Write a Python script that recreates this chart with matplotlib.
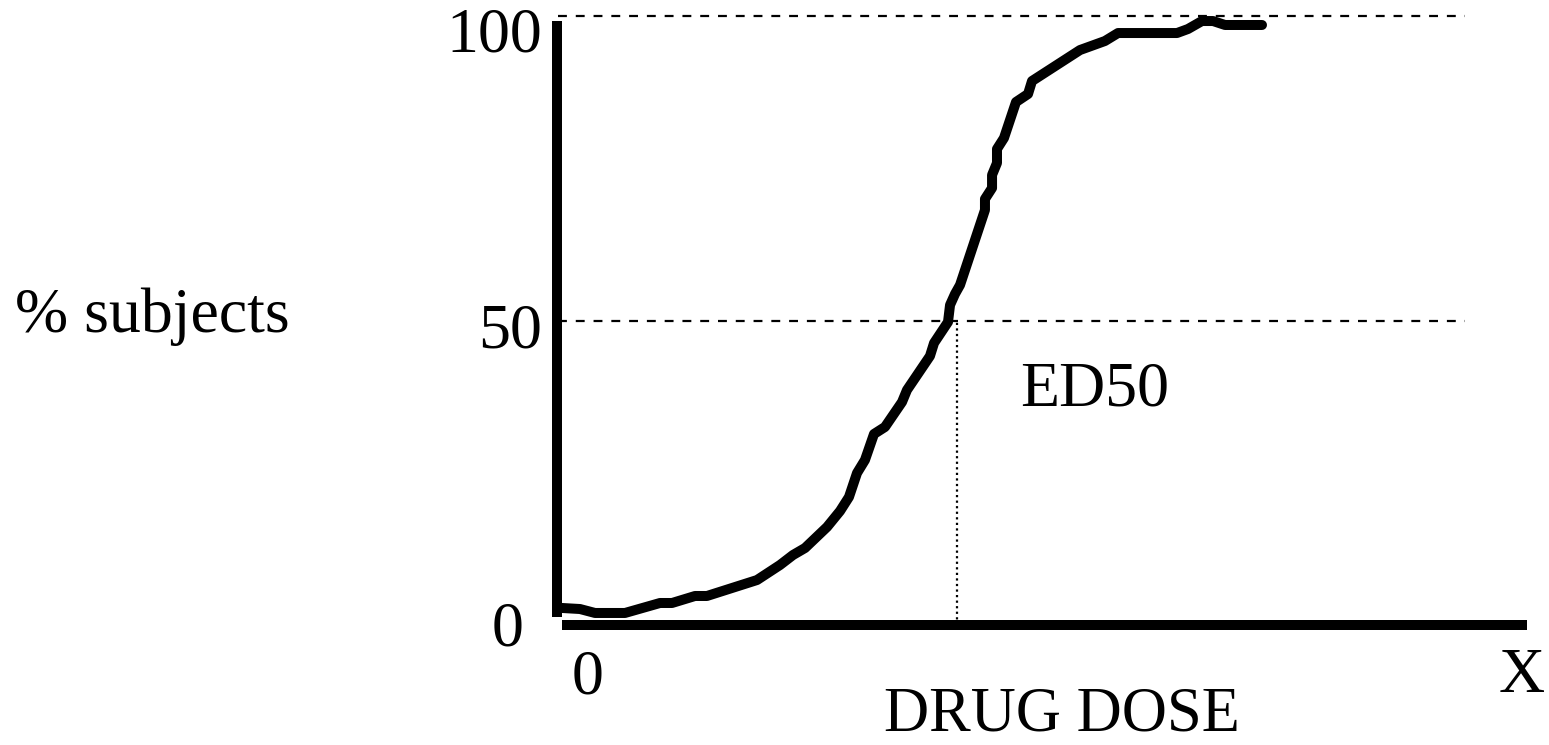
import matplotlib
matplotlib.use("Agg")
import matplotlib.pyplot as plt

# ---- data ----
dose = [0.52, 2.37, 3.92, 7.01, 10.62, 11.86, 14.23, 15.46, 20.62, 22.99,
        24.33, 25.57, 27.84, 29.18, 30.10, 30.93, 31.75, 32.68, 33.81, 35.57,
        36.08, 38.45, 38.87, 40.31, 40.52, 41.03, 41.55, 44.12, 44.12, 44.85,
        44.85, 45.36, 45.36, 46.08, 47.32, 48.56, 48.97, 53.92, 56.49, 57.84,
        63.92, 65.05, 66.49, 67.63, 68.87, 72.68]
response = [2.86, 2.69, 2.04, 2.04, 3.68, 3.68, 4.83, 4.83, 7.45, 9.92,
            11.56, 12.71, 16.16, 18.78, 21.08, 25.02, 27.16, 31.43, 32.58, 36.68,
            38.65, 44.23, 46.37, 49.82, 52.61, 54.42, 55.90, 68.21, 70.02, 71.82,
            73.96, 75.93, 78.23, 80.03, 85.94, 87.26, 89.39, 94.48, 95.96, 97.27,
            97.27, 97.93, 99.24, 99.24, 98.59, 98.59]
ed50_dose = 41.2
ref_levels = [50, 100]
ytick_labels = ["100", "50", "0"]
xtick_labels = ["0", "X"]

W, H = 1549, 745
fig = plt.figure(figsize=(W / 100, H / 100), dpi=100)
plt.rcParams['font.family'] = ['Liberation Serif', 'DejaVu Serif']

# axes: left px 557, right px 1527, bottom px 625.4, top px 16.4
L, R, B, T = 557, 1527, 625.4, 16.4
ax = fig.add_axes([L / W, 1 - B / H, (R - L) / W, (B - T) / H])
ax.set_xlim(0, 100)
ax.set_ylim(0, 100)
ax.set_facecolor("none")
ax.set_xticks([])
ax.set_yticks([])
for s in ["top", "right"]:
    ax.spines[s].set_visible(False)
lw_axis = 7.2
ax.spines["left"].set_linewidth(lw_axis)
ax.spines["left"].set_bounds(1.4, 99.3)
ax.spines["left"].set_capstyle("butt")
ax.spines["bottom"].set_linewidth(lw_axis)
ax.spines["bottom"].set_bounds(0.52, 100)
ax.spines["bottom"].set_capstyle("butt")

# dashed reference lines
for lev in ref_levels:
    ax.plot([0.1, 93.6], [lev, lev], color="black", lw=1.6,
            linestyle=(0, (4.0, 4.0)), clip_on=False, zorder=1)
# dotted ED50 drop line
ax.plot([ed50_dose, ed50_dose], [0, 50], color="black", lw=1.6,
        linestyle=(0, (1.0, 1.5)), clip_on=False, zorder=1)

# dose-response curve
ax.plot(dose, response, color="black", lw=7.2, solid_capstyle="round",
        solid_joinstyle="round", clip_on=False, zorder=3)

fs = 46


def ftext(px, py, s, ha, size=fs, va="baseline"):
    fig.text(px / W, 1 - py / H, s, ha=ha, va=va, fontsize=size,
             color="black")


ftext(542, 52, ytick_labels[0], "right")
ftext(542, 347, ytick_labels[1], "right")
ftext(523, 645, ytick_labels[2], "right")
ftext(588, 693, xtick_labels[0], "center")
ftext(1522, 692, xtick_labels[1], "center")
ftext(1062, 744.5, "DRUG DOSE", "center", 45, "bottom")
ftext(15, 332, "% subjects", "left")
ftext(1020, 405, "ED50", "left")

fig.savefig("out.png", dpi=100, facecolor="white")
